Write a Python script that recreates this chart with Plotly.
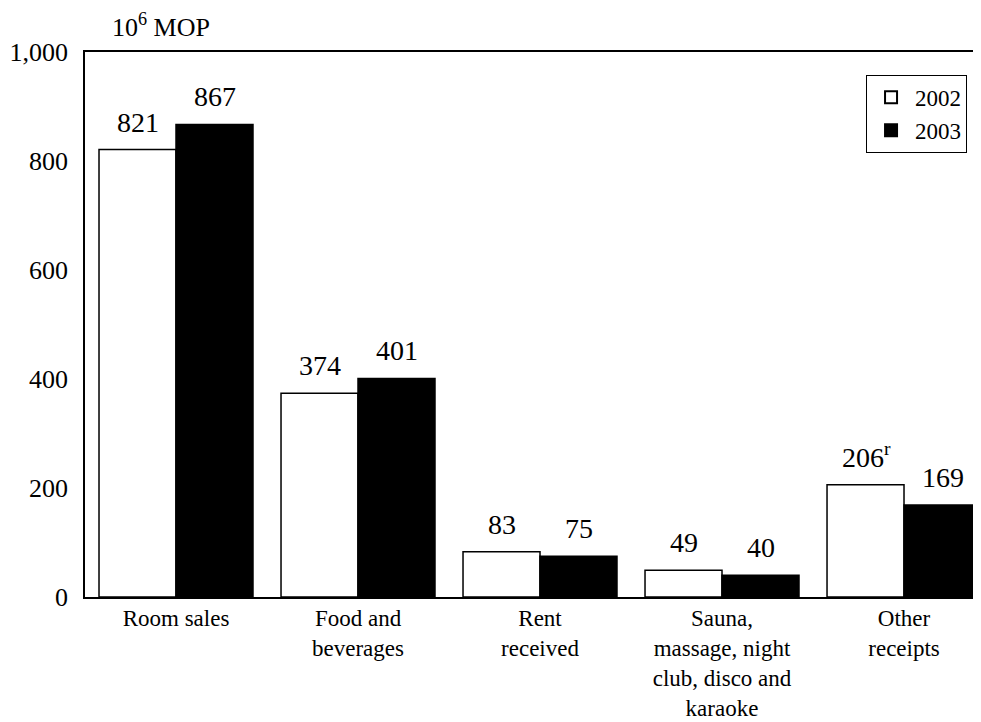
import plotly.graph_objects as go

categories = ["Room sales", "Food and<br>beverages", "Rent<br>received",
              "Sauna,<br>massage, night<br>club, disco and<br>karaoke", "Other<br>receipts"]
values_2002 = [821, 374, 83, 49, 206]
values_2003 = [867, 401, 75, 40, 169]
labels_2002 = ["821", "374", "83", "49", "206<sup>r</sup>"]
labels_2003 = ["867", "401", "75", "40", "169"]
y_ticks = [0, 200, 400, 600, 800, 1000]
y_tick_text = ["0", "200", "400", "600", "800", "1,000"]

FONT = "Liberation Serif, Times New Roman, serif"

fig = go.Figure()
fig.add_trace(go.Bar(name="2002", x=categories, y=values_2002,
                     marker=dict(color="white", line=dict(color="black", width=1.5))))
fig.add_trace(go.Bar(name="2003", x=categories, y=values_2003,
                     marker=dict(color="black", line=dict(color="black", width=1.5))))

for cat, v, t in zip(categories, values_2002, labels_2002):
    fig.add_annotation(x=cat, y=v, text=t, showarrow=False, xshift=-38, yshift=10,
                       yanchor="bottom", font=dict(family=FONT, size=28, color="black"))
for cat, v, t in zip(categories, values_2003, labels_2003):
    fig.add_annotation(x=cat, y=v, text=t, showarrow=False, xshift=39, yshift=10,
                       yanchor="bottom", font=dict(family=FONT, size=28, color="black"))

fig.add_annotation(x=0.028, y=1.0, xref="paper", yref="paper", xanchor="left", yanchor="bottom",
                   text="10<sup>6</sup> MOP", showarrow=False, yshift=8,
                   font=dict(family=FONT, size=26, color="black"))

fig.update_layout(
    width=973, height=714,
    margin=dict(l=77, r=0, t=44, b=125, autoexpand=False),
    paper_bgcolor="white", plot_bgcolor="white",
    barmode="group", bargap=0.154, bargroupgap=0,
    font=dict(family=FONT, color="black"),
    showlegend=True,
    legend=dict(x=0.8717, y=0.958, xanchor="left", yanchor="top",
                bgcolor="white", bordercolor="black", borderwidth=1,
                font=dict(family=FONT, size=23, color="black"),
                tracegroupgap=0, itemsizing="constant", itemwidth=38),
)
fig.update_xaxes(range=[-0.5, 4.423], showline=True, linecolor="black", linewidth=1.5,
                 mirror=True, ticks="", tickfont=dict(family=FONT, size=23, color="black"),
                 showgrid=False, automargin=False)
fig.update_yaxes(range=[0, 1000], tickvals=y_ticks, ticktext=y_tick_text,
                 showline=True, linecolor="black", linewidth=1.5, ticks="",
                 showgrid=False, zeroline=False, ticklabelstandoff=10, automargin=False,
                 tickfont=dict(family=FONT, size=26, color="black"))

fig.write_html("out.html")
